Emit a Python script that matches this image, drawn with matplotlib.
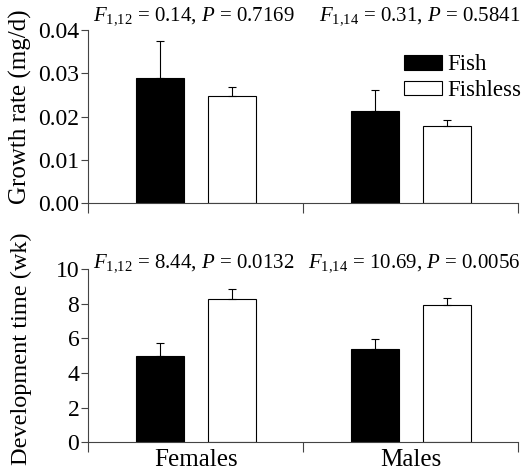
import matplotlib
matplotlib.use('Agg')
import matplotlib.pyplot as plt
import numpy as np

# data
groups = ['Females', 'Males']
treatments = ['Fish', 'Fishless']

growth_fish = [0.0290, 0.0212]
growth_fish_err = [0.0084, 0.0050]
growth_fishless = [0.0247, 0.0178]
growth_fishless_err = [0.0022, 0.0013]

dev_fish = [5.00, 5.39]
dev_fish_err = [0.76, 0.56]
dev_fishless = [8.27, 7.92]
dev_fishless_err = [0.57, 0.40]

growth_stats = [r'$F_{1{,}12}$ = 0.14, $P$ = 0.7169', r'$F_{1{,}14}$ = 0.31, $P$ = 0.5841']
dev_stats = [r'$F_{1{,}12}$ = 8.44, $P$ = 0.0132', r'$F_{1{,}14}$ = 10.69, $P$ = 0.0056']

plt.rcParams['font.family'] = ['Liberation Serif', 'DejaVu Serif']
plt.rcParams['mathtext.fontset'] = 'custom'
plt.rcParams['mathtext.rm'] = 'Liberation Serif'
plt.rcParams['mathtext.it'] = 'Liberation Serif:italic'

fig = plt.figure(figsize=(5.26, 4.73), dpi=100)
ax1 = fig.add_axes([0.168, 0.571, 0.8175, 0.365])
ax2 = fig.add_axes([0.168, 0.065, 0.8175, 0.366])

x = np.array([0.5, 1.5])
off = 0.167
w = 0.223
spine_col = '#444444'


def draw_panel(ax, fish, fish_err, fishless, fishless_err, ylim, yticks, fmt, stats, stat_y):
    ax.bar(x - off, fish, w, color='black', edgecolor='black', lw=0.8, label='Fish',
           yerr=[np.zeros(2), fish_err], error_kw=dict(ecolor='black', elinewidth=0.8, capsize=3, capthick=0.8))
    ax.bar(x + off, fishless, w, color='white', edgecolor='black', lw=0.8, label='Fishless',
           yerr=[np.zeros(2), fishless_err], error_kw=dict(ecolor='black', elinewidth=0.8, capsize=3, capthick=0.8))
    ax.set_xlim(0, 2)
    ax.set_ylim(*ylim)
    ax.set_yticks(yticks)
    ax.set_yticklabels([fmt.format(v) for v in yticks])
    ax.set_xticks([0, 1, 2])
    ax.set_xticklabels([])
    ax.set_xticks(x, minor=True)
    ax.tick_params(axis='x', which='minor', length=0)
    ax.tick_params(axis='both', which='major', direction='out', length=5, width=0.8,
                   color=spine_col, labelsize=17, pad=1.5)
    ax.tick_params(axis='x', which='major', length=7)
    for s in ['top', 'right']:
        ax.spines[s].set_visible(False)
    for s in ['left', 'bottom']:
        ax.spines[s].set_color(spine_col)
        ax.spines[s].set_linewidth(0.8)
    ax.text(0.02, stat_y, stats[0], fontsize=15, ha='left', va='center',
            transform=ax.get_xaxis_transform())
    ax.text(2.01, stat_y, stats[1], fontsize=15, ha='right', va='center',
            transform=ax.get_xaxis_transform())


draw_panel(ax1, growth_fish, growth_fish_err, growth_fishless, growth_fishless_err,
           (0, 0.04), [0, 0.01, 0.02, 0.03, 0.04], '{:.2f}', growth_stats, 1.085)
draw_panel(ax2, dev_fish, dev_fish_err, dev_fishless, dev_fishless_err,
           (0, 10), [0, 2, 4, 6, 8, 10], '{:g}', dev_stats, 1.035)

ax2.set_xticks(x, minor=True)
ax2.set_xticklabels(groups, minor=True, fontsize=18)
ax2.tick_params(axis='x', which='minor', pad=5)

ax1.set_ylabel('Growth rate (mg/d)', fontsize=18)
ax2.set_ylabel('Development time (wk)', fontsize=17.5)
ax1.yaxis.set_label_coords(-0.13, 0.56)
ax2.yaxis.set_label_coords(-0.13, 0.54)

ax1.legend(loc='upper left', bbox_to_anchor=(0.734, 0.86), frameon=False, fontsize=16.5,
           borderpad=0, borderaxespad=0, handlelength=1.65, handleheight=0.6,
           labelspacing=0.2, handletextpad=0.25)

fig.savefig('out.png', dpi=100)
